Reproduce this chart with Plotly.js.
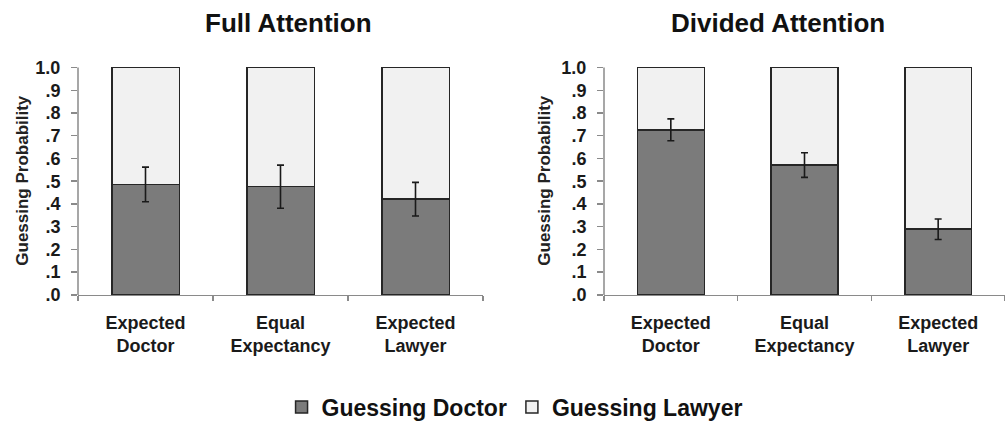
<!DOCTYPE html>
<html>
<head>
<meta charset="utf-8">
<script src="https://cdn.plot.ly/plotly-3.0.1.min.js"></script>
<style>
html,body{margin:0;padding:0;background:#fff;}
#chart{width:1005px;height:429px;}
</style>
</head>
<body>
<div id="chart"></div>
<script>
// ---- Data ----
var categories = ['Expected<br>Doctor', 'Equal<br>Expectancy', 'Expected<br>Lawyer'];
var fullDoctor = [0.486, 0.476, 0.421];
var fullLawyer = [0.514, 0.524, 0.579];
var fullErr = [0.076, 0.095, 0.074];
var dividedDoctor = [0.726, 0.571, 0.289];
var dividedLawyer = [0.274, 0.429, 0.711];
var dividedErr = [0.048, 0.054, 0.045];
var yTickVals = [0, 0.1, 0.2, 0.3, 0.4, 0.5, 0.6, 0.7, 0.8, 0.9, 1.0];
var yTickText = ['.0', '.1', '.2', '.3', '.4', '.5', '.6', '.7', '.8', '.9', '1.0'];
var panelTitles = ['Full Attention', 'Divided Attention'];
var yTitle = 'Guessing Probability';
var seriesNames = ['Guessing Doctor', 'Guessing Lawyer'];

var FONT = 'Liberation Sans, Arial, sans-serif';
var darkFill = '#7b7b7b';
var lightFill = '#f1f1f1';
var outline = '#262626';

function barTrace(x, y, name, fill, xa, ya, showleg) {
  return {
    type: 'bar', x: x, y: y, name: name, xaxis: xa, yaxis: ya,
    width: 0.5, showlegend: showleg, legendgroup: name, cliponaxis: false,
    marker: {color: fill, line: {color: outline, width: 1.5}},
    hoverinfo: 'skip'
  };
}
function errTrace(x, y, e, xa, ya) {
  return {
    type: 'scatter', mode: 'markers', x: x, y: y, xaxis: xa, yaxis: ya,
    showlegend: false, hoverinfo: 'skip',
    marker: {size: 1, color: 'rgba(0,0,0,0)'},
    error_y: {type: 'data', array: e, visible: true, color: '#1a1a1a', thickness: 1.6, width: 3.5}
  };
}

var data = [
  barTrace(categories, fullDoctor, seriesNames[0], darkFill, 'x', 'y', true),
  barTrace(categories, fullLawyer, seriesNames[1], lightFill, 'x', 'y', true),
  barTrace(categories, dividedDoctor, seriesNames[0], darkFill, 'x2', 'y2', false),
  barTrace(categories, dividedLawyer, seriesNames[1], lightFill, 'x2', 'y2', false),
  errTrace(categories, fullDoctor, fullErr, 'x', 'y'),
  errTrace(categories, dividedDoctor, dividedErr, 'x2', 'y2')
];

var Y0 = 297, Y1 = 68, YTOP = 1.01;
var yDomTop = Y0 - (Y0 - Y1) * YTOP;

function xAxis(domain, anchor) {
  return {
    domain: domain, anchor: anchor, type: 'category',
    showline: true, linecolor: '#8a8a8a', linewidth: 1.5,
    ticks: 'outside', tickson: 'boundaries', ticklen: 5, tickcolor: '#8a8a8a', tickwidth: 1.5,
    showgrid: false, zeroline: false, fixedrange: true,
    ticklabelstandoff: 11,
    tickfont: {family: FONT, size: 18, color: '#1a1a1a', weight: 'bold'}
  };
}
function yAxis(anchor) {
  return {
    domain: [1 - Y0/429, 1 - yDomTop/429], anchor: anchor, range: [0, YTOP],
    showline: false,
    ticks: 'outside', ticklen: 6, tickcolor: '#8a8a8a', tickwidth: 1.5,
    tickmode: 'array', tickvals: yTickVals, ticktext: yTickText,
    showgrid: false, zeroline: false, fixedrange: true,
    ticklabelstandoff: 7,
    tickfont: {family: FONT, size: 18, color: '#1a1a1a', weight: 'bold'}
  };
}

var layout = {
  width: 1005, height: 429,
  margin: {l: 0, r: 0, t: 0, b: 0},
  paper_bgcolor: '#ffffff', plot_bgcolor: 'rgba(0,0,0,0)',
  barmode: 'stack',
  bargap: 0.5,
  xaxis: xAxis([78/1005, 483/1005], 'y'),
  yaxis: yAxis('x'),
  xaxis2: xAxis([604/1005, 1], 'y2'),
  yaxis2: yAxis('x2'),
  showlegend: true,
  legend: {
    orientation: 'h', traceorder: 'normal',
    x: 0.512, xanchor: 'center', y: 1 - 410/429, yanchor: 'middle',
    font: {family: FONT, size: 23, color: '#111', weight: 'bold'},
    itemwidth: 30, bgcolor: 'rgba(0,0,0,0)'
  },
  shapes: [
    {type: 'line', xref: 'x domain', yref: 'y', x0: 0, x1: 0, y0: 0, y1: 1, line: {color: '#8a8a8a', width: 1.5}},
    {type: 'line', xref: 'x2 domain', yref: 'y2', x0: 0, x1: 0, y0: 0, y1: 1, line: {color: '#8a8a8a', width: 1.5}}
  ],
  annotations: [
    {text: panelTitles[0], xref: 'paper', yref: 'paper', x: 288/1005, y: 1 - 23/429,
     xanchor: 'center', yanchor: 'middle', showarrow: false,
     font: {family: FONT, size: 26, color: '#111', weight: 'bold'}},
    {text: panelTitles[1], xref: 'paper', yref: 'paper', x: 778/1005, y: 1 - 23/429,
     xanchor: 'center', yanchor: 'middle', showarrow: false,
     font: {family: FONT, size: 26, color: '#111', weight: 'bold'}},
    {text: yTitle, xref: 'paper', yref: 'paper', x: 23/1005, y: 1 - 182/429,
     xanchor: 'center', yanchor: 'middle', showarrow: false, textangle: -90,
     font: {family: FONT, size: 17, color: '#222', weight: 'bold'}},
    {text: yTitle, xref: 'paper', yref: 'paper', x: 545/1005, y: 1 - 182/429,
     xanchor: 'center', yanchor: 'middle', showarrow: false, textangle: -90,
     font: {family: FONT, size: 17, color: '#222', weight: 'bold'}}
  ]
};

Plotly.newPlot('chart', data, layout, {staticPlot: true, displayModeBar: false});
</script>
</body>
</html>
